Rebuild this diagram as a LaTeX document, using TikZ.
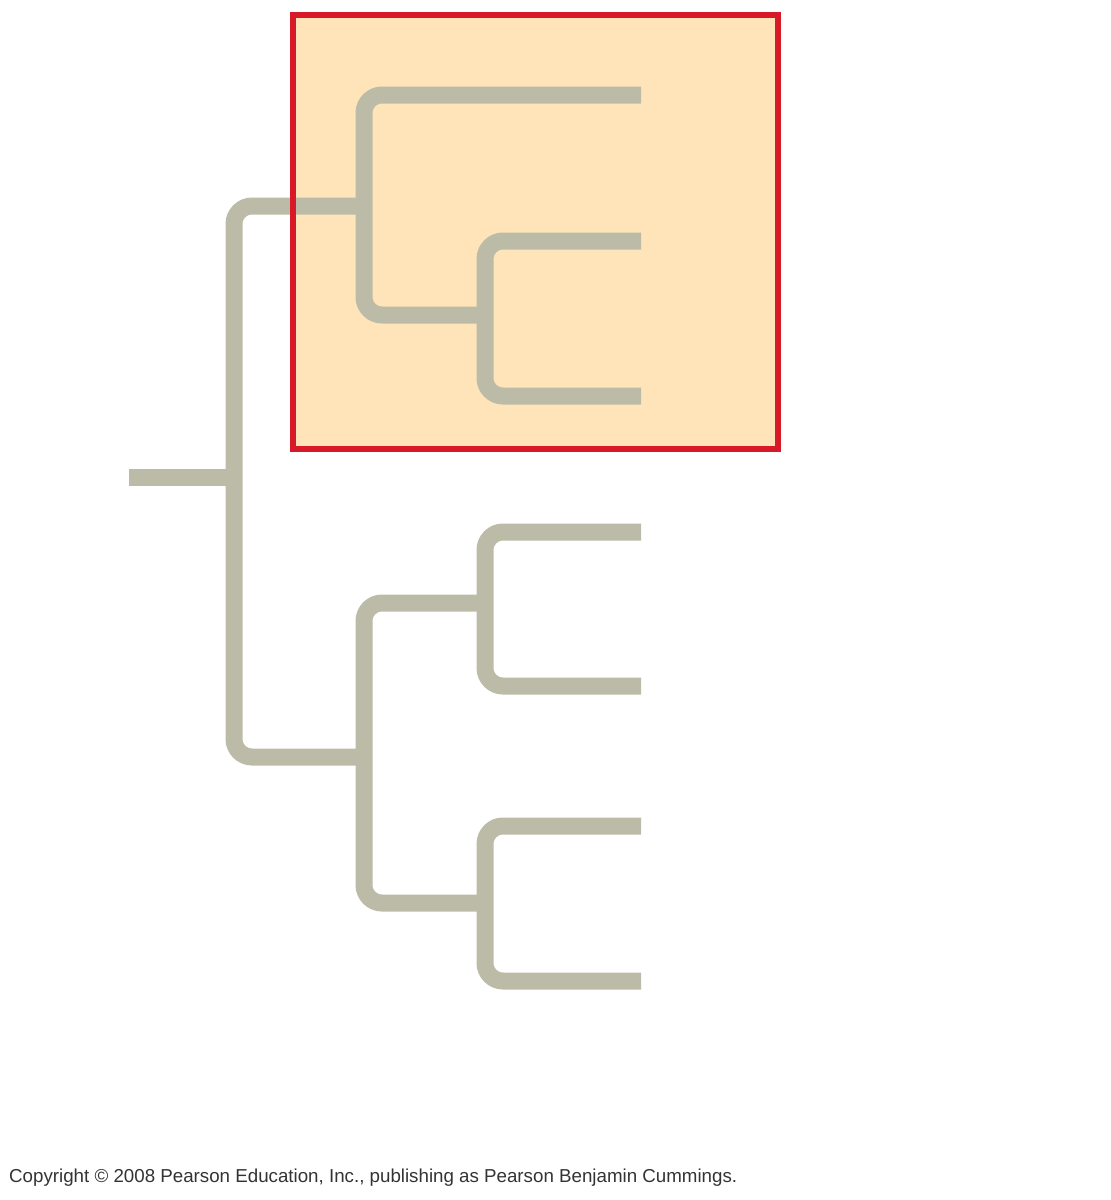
\documentclass[tikz,border=0pt]{standalone}
\usepackage{fontspec}
\setmainfont{Liberation Sans}
\definecolor{treegray}{RGB}{188,187,168}
\definecolor{boxfill}{RGB}{254,228,184}
\definecolor{boxred}{RGB}{215,25,40}
\tikzset{
  branch/.style={draw=treegray, line width=17bp, rounded corners=18bp},
  cladebox/.style={draw=boxred, line width=6bp}
}
\begin{document}
\begin{tikzpicture}[x=1bp, y=-1bp]
		%%%%% FRAME %%%%%
		\useasboundingbox (0, 0) rectangle (1111, 1200);
		
		%%%%% NODES %%%%%
		\coordinate (r0) at (129, 477);
		\coordinate (n0) at (234, 477);
		\coordinate (n1) at (364, 206);
		\coordinate (n2) at (485, 315);
		\coordinate (n3) at (364, 757);
		\coordinate (n4) at (485, 603);
		\coordinate (n5) at (485, 903);
		\coordinate (t1) at (641, 95);
		\coordinate (t2) at (641, 241);
		\coordinate (t3) at (641, 396);
		\coordinate (t4) at (641, 532);
		\coordinate (t5) at (641, 686);
		\coordinate (t6) at (641, 826);
		\coordinate (t7) at (641, 981);
		
		%%%%% CLADE %%%%%
		\fill[boxfill] (293, 15) rectangle (778, 449);
		
		%%%%% TREE %%%%%
		\draw[branch] (r0) -- (n0);
		\draw[branch] (n0) |- (n1);
		\draw[branch] (n0) |- (n3);
		
		\draw[branch] (n1) |- (t1);
		\draw[branch] (n1) |- (n2);
		\draw[branch] (n2) |- (t2);
		\draw[branch] (n2) |- (t3);
		
		\draw[branch] (n3) |- (n4);
		\draw[branch] (n3) |- (n5);
		\draw[branch] (n4) |- (t4);
		\draw[branch] (n4) |- (t5);
		\draw[branch] (n5) |- (t6);
		\draw[branch] (n5) |- (t7);
		
		\draw[cladebox] (293, 15) rectangle (778, 449);
		
		%%%%% CREDIT %%%%%
		\node[anchor=base west, inner sep=0pt, text=black!80, font=\fontsize{18.8}{20}\selectfont] (credit) at (9, 1182)
			{Copyright \textcopyright{} 2008 Pearson Education, Inc., publishing as Pearson Benjamin Cummings.};
		
		%%%%% END %%%%%
\end{tikzpicture}
\end{document}
